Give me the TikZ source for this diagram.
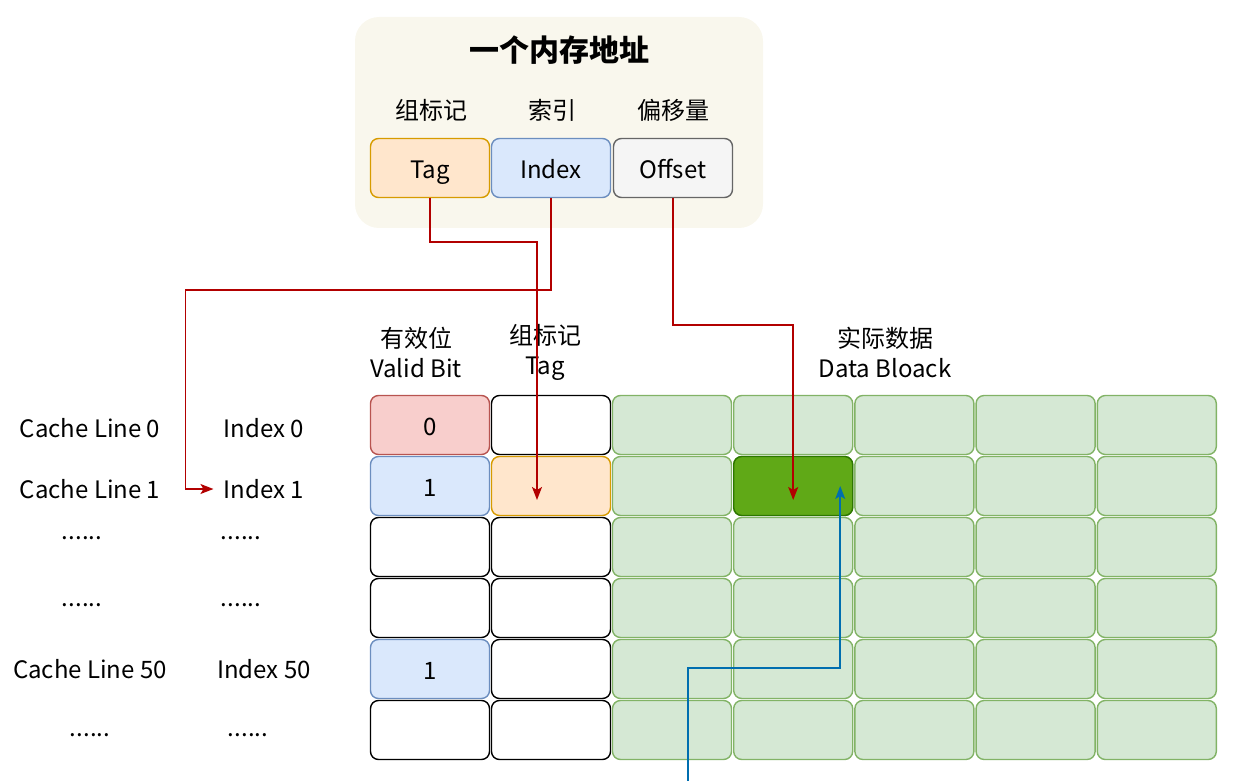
\documentclass[tikz,border=0pt]{standalone}
\usepackage{fontspec}
\setmainfont{Noto Sans CJK SC}
\usepackage{tikz}
\usetikzlibrary{shapes,arrows,arrows.meta}
\definecolor{panelbg}{HTML}{F9F7ED}
\definecolor{redline}{HTML}{B20000}
\definecolor{blueline}{HTML}{006EAF}
\definecolor{tagfill}{HTML}{FFE6CC}
\definecolor{tagdraw}{HTML}{D79B00}
\definecolor{idxfill}{HTML}{DAE8FC}
\definecolor{idxdraw}{HTML}{6C8EBF}
\definecolor{offfill}{HTML}{F5F5F5}
\definecolor{offdraw}{HTML}{666666}
\definecolor{vfill}{HTML}{F8CECC}
\definecolor{vdraw}{HTML}{B85450}
\definecolor{datafill}{HTML}{D5E8D4}
\definecolor{datadraw}{HTML}{82B366}
\definecolor{hitfill}{HTML}{60A917}
\definecolor{hitdraw}{HTML}{2D7600}

\begin{document}
\begin{tikzpicture}[x=0.5pt,y=-0.5pt,
    txt/.style={inner sep=2pt,font=\fontsize{12}{15}\selectfont},
    cell/.style={draw,line width=0.7pt,rounded corners=4pt,minimum width=59.5pt,
      minimum height=29.5pt,inner sep=0pt,text height=11pt,text depth=0.5pt,
      font=\fontsize{12}{15}\selectfont},
    plain/.style={cell,fill=white},
    tagbox/.style={cell,fill=tagfill,draw=tagdraw},
    idxbox/.style={cell,fill=idxfill,draw=idxdraw},
    offbox/.style={cell,fill=offfill,draw=offdraw},
    vred/.style={cell,fill=vfill,draw=vdraw},
    databox/.style={cell,fill=datafill,draw=datadraw},
    hitbox/.style={cell,fill=hitfill,draw=hitdraw},
    redarrow/.style={draw=redline,line width=0.75pt,-{Stealth[length=6.5pt,width=5pt,inset=1.5pt]}},
    bluearrow/.style={draw=blueline,line width=0.75pt,-{Stealth[length=6.5pt,width=5pt,inset=1.5pt]}}]
  \useasboundingbox (0,0) rectangle (1244,781);
  % address panel
  \node[fill=panelbg,rounded corners=12pt,minimum width=204pt,minimum height=105.5pt] (addr) at (559,122.5) {};
  \node[font=\bfseries\fontsize{15}{18}\selectfont] (title) at (559,50) {一个内存地址};
  \node[txt] (lbltag) at (431,110) {组标记};
  \node[txt] (lblidx) at (552,110) {索引};
  \node[txt] (lbloff) at (673,110) {偏移量};
  \node[tagbox] (tag) at (430,168) {Tag};
  \node[idxbox] (idx) at (551,168) {Index};
  \node[offbox] (off) at (673,168) {Offset};
  % column headers
  \node[txt,align=center] (hvalid) at (416,352) {有效位\\Valid Bit};
  \node[txt,align=center] (htag) at (545,352) {组标记\\Tag};
  \node[txt,align=center] (hdata) at (885,352) {实际数据\\Data Bloack};
  % valid bit and tag columns
  \foreach \r/\st/\v in {0/vred/0,1/idxbox/1,2/plain/,3/plain/,4/idxbox/1,5/plain/}
    \node[\st] (v\r) at (430,425+61*\r) {\v};
  \foreach \r/\st in {0/plain,1/tagbox,2/plain,3/plain,4/plain,5/plain}
    \node[\st] (t\r) at (551,425+61*\r) {};
  % data block
  \foreach \r in {0,...,5}
    \foreach \c in {0,...,4}
      \node[databox] (d\r\c) at (672+121.2*\c,425+61*\r) {};
  \node[hitbox] (hit) at (793.2,486) {};
  % line labels
  \node[txt] (cl0) at (90,428) {Cache Line 0};
  \node[txt] (ix0) at (264,428) {Index 0};
  \node[txt] (cl1) at (90,489) {Cache Line 1};
  \node[txt] (ix1) at (264,489) {Index 1};
  \node[txt] (cl2) at (82,538) {......};
  \node[txt] (ix2) at (241,538) {......};
  \node[txt] (cl3) at (82,605) {......};
  \node[txt] (ix3) at (241,605) {......};
  \node[txt] (cl50) at (90,669) {Cache Line 50};
  \node[txt] (ix50) at (264,669) {Index 50};
  \node[txt] (cl5) at (90,735) {......};
  \node[txt] (ix5) at (248,735) {......};
  % connectors
  \draw[redarrow] (tag.south) -- ++(0,44) -| ([shift={(-14,14)}]t1.center);
  \draw[redarrow] (idx.south) -- ++(0,92) -| ([xshift=-17pt]ix1.west) -- ([xshift=-3pt]ix1.west);
  \draw[redarrow] (off.south) -- ++(0,127) -| ([yshift=-7pt]hit.center);
  \coordinate (bstart) at (688,781);
  \draw[bluearrow] (bstart) -- (688,668) -| ([xshift=23.5pt]hit.center);
\end{tikzpicture}
\end{document}
